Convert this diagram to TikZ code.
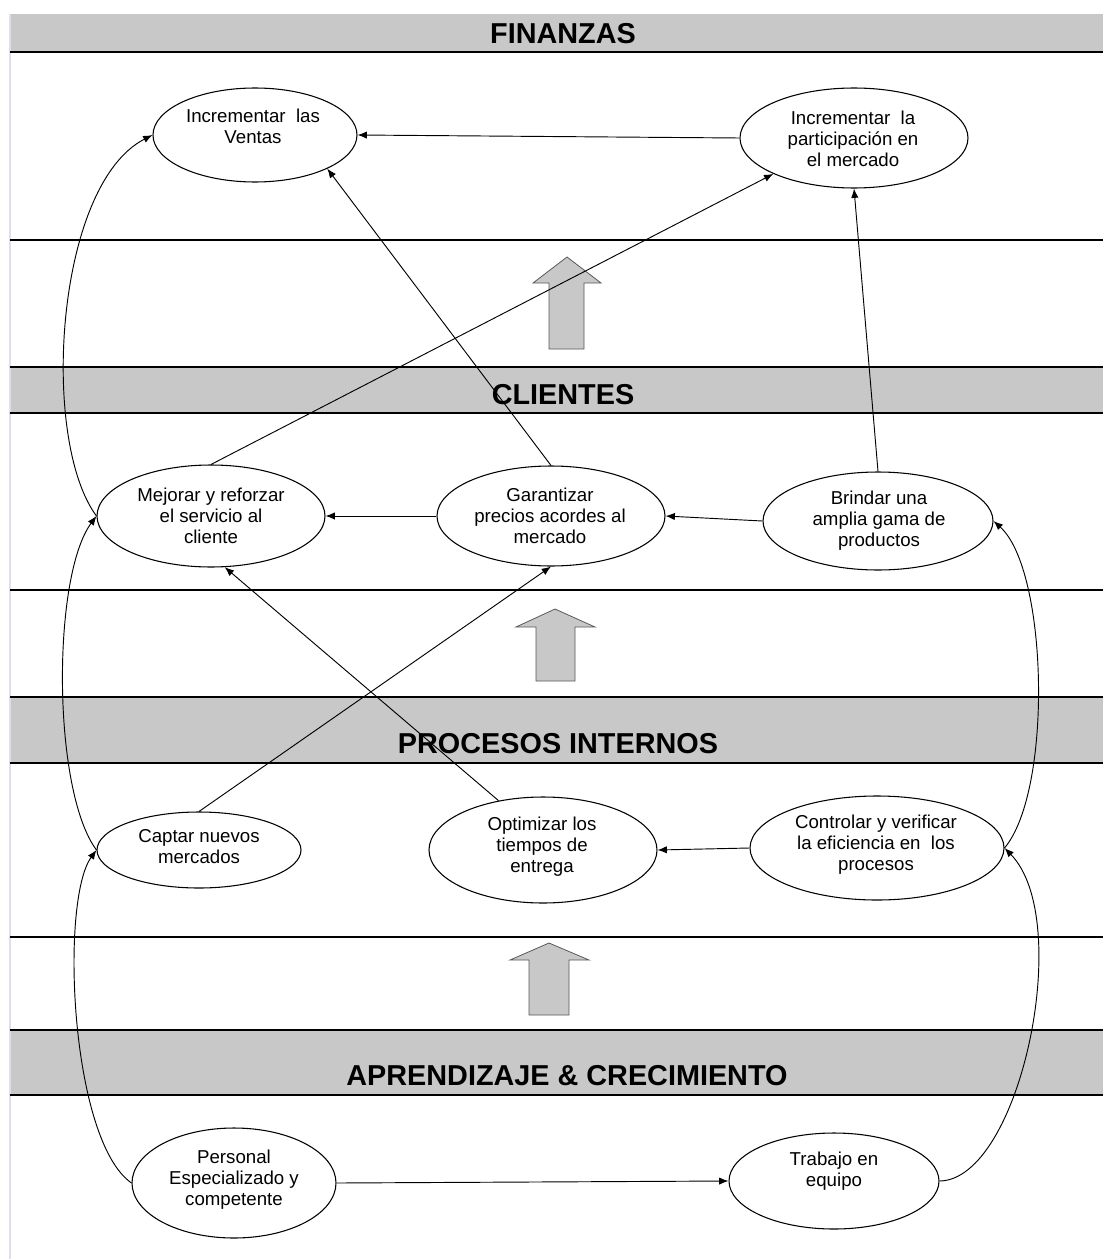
\documentclass[tikz,border=0pt]{standalone}
\usepackage{fontspec}
\setmainfont{Liberation Sans}
\usetikzlibrary{shapes.geometric,arrows.meta}
\definecolor{bandgray}{RGB}{200,200,200}
\definecolor{edgeline}{RGB}{222,222,236}
\begin{document}
\begin{tikzpicture}[x=0.75pt,y=-0.75pt,
 band/.style={fill=bandgray,draw=none},
 hline/.style={line width=2.2pt},
 ell/.style={ellipse,draw,line width=0.8pt,inner sep=0pt},
 txt/.style={align=center,font=\fontsize{14}{15.75}\selectfont,inner sep=0pt},
 ttl/.style={font=\fontsize{21.6}{24}\selectfont\bfseries,inner sep=0pt},
 arr/.style={-{Latex[length=7pt,width=5.5pt]},line width=0.7pt},
 blk/.style={fill=bandgray,draw=black!65,line width=0.6pt}]
\useasboundingbox[fill=white] (0,0) rectangle (1103,1259);
% bands
\fill[band] (10,14) rectangle (1103,52);
\fill[band] (10,367) rectangle (1103,413);
\fill[band] (10,697) rectangle (1103,763);
\fill[band] (10,1030) rectangle (1103,1095);
\draw[edgeline,line width=1pt] (10,14) -- (10,1259);
\foreach \yy in {52,240,367,413,590,697,763,937,1030,1095}
  \draw[hline] (10,\yy) -- (1103,\yy);
% titles
\node[ttl] (tfin) at (563,34) {FINANZAS};
\node[ttl] (tcli) at (563,395) {CLIENTES};
\node[ttl] (tpro) at (558,744) {PROCESOS INTERNOS};
\node[ttl] (tapr) at (567,1076) {APRENDIZAJE \& CRECIMIENTO};
% block arrows
\draw[blk] (549,349) -- (549,283) -- (533,283) -- (567,257) -- (601,283) -- (584,283) -- (584,349) -- cycle;
\draw[blk] (536,681) -- (536,627) -- (516,627) -- (555,609) -- (595,627) -- (575,627) -- (575,681) -- cycle;
\draw[blk] (529,1015) -- (529,960) -- (510,960) -- (549,943) -- (589,960) -- (569,960) -- (569,1015) -- cycle;
% ellipses
\node[ell,minimum width=153pt,minimum height=70.5pt] (ven) at (255,135) {};
\node[ell,minimum width=171pt,minimum height=75pt] (par) at (854,138) {};
\node[ell,minimum width=171pt,minimum height=76.5pt] (mej) at (211,516) {};
\node[ell,minimum width=171pt,minimum height=75pt] (gar) at (551,516) {};
\node[ell,minimum width=172.5pt,minimum height=73.5pt] (bri) at (878,521) {};
\node[ell,minimum width=153pt,minimum height=57pt] (cap) at (199,850) {};
\node[ell,minimum width=171pt,minimum height=79.5pt] (opt) at (543,850) {};
\node[ell,minimum width=190.5pt,minimum height=78pt] (con) at (877,848) {};
\node[ell,minimum width=153pt,minimum height=82.5pt] (per) at (234,1183) {};
\node[ell,minimum width=157.5pt,minimum height=72pt] (tra) at (834,1181) {};
% texts
\node[txt] (xven) at (253,126) {Incrementar\ \ las\\Ventas};
\node[txt] (xpar) at (853,139) {Incrementar\ \ la\\participación en\\el mercado};
\node[txt] (xmej) at (211,516) {Mejorar y reforzar\\el servicio al\\cliente};
\node[txt] (xgar) at (550,516) {Garantizar\\precios acordes al\\mercado};
\node[txt] (xbri) at (879,521) {Brindar una\\amplia gama de\\productos};
\node[txt] (xcap) at (199,847) {Captar nuevos\\mercados};
\node[txt] (xopt) at (542,847) {Optimizar los\\tiempos de\\entrega};
\node[txt] (xcon) at (876,845) {Controlar y verificar\\la eficiencia en\ \ los\\procesos};
\node[txt] (xper) at (234,1180) {Personal\\Especializado y\\competente};
\node[txt] (xtra) at (834,1171) {Trabajo en\\equipo};
% straight connectors
\draw[arr] (par.west) -- (ven.east);
\draw[arr] (bri.north) -- (par.south);
\draw[arr] (gar.north) -- (ven.-25.6);
\draw[arr] (mej.north) -- (par.204);
\draw[arr] (bri.west) -- (gar.east);
\draw[arr] (gar.west) -- (mej.east);
\draw[arr] (opt.132.6) -- (mej.-75.4);
\draw[arr] (cap.north) -- (gar.south);
\draw[arr] (con.west) -- (opt.east);
\draw[arr] (per.east) -- (tra.west);
% curved connectors
\draw[arr] (mej.west) .. controls (40,440) and (55,185) .. (ven.west);
\draw[arr] (cap.west) .. controls (52,790) and (52,576) .. (mej.west);
\draw[arr] (con.east) .. controls (1053,790) and (1048,570) .. (bri.east);
\draw[arr] (per.west) .. controls (70,1140) and (60,900) .. (cap.west);
\draw[arr] (tra.east) .. controls (1020,1180) and (1075,920) .. (con.east);
\end{tikzpicture}
\end{document}
